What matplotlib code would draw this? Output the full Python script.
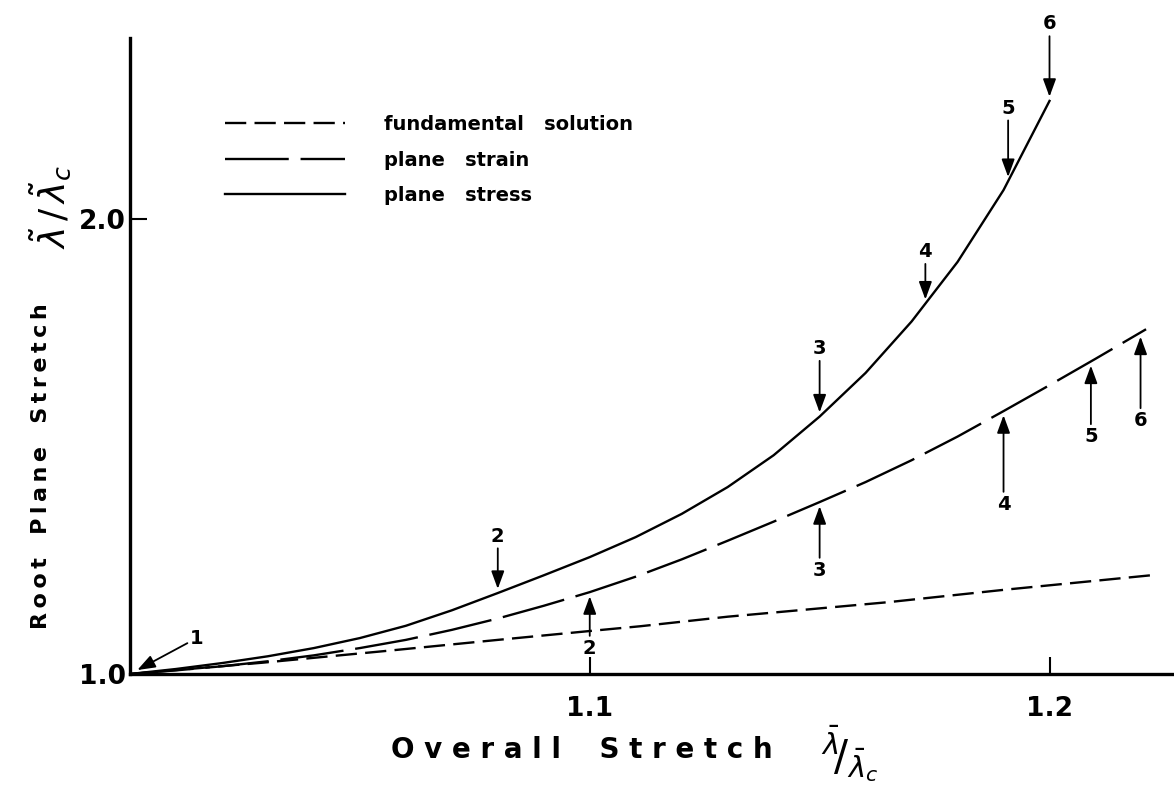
import numpy as np
import matplotlib
matplotlib.use("Agg")
import matplotlib.pyplot as plt
from matplotlib.lines import Line2D

# curves
stress_x = [1.00, 1.01, 1.02, 1.03, 1.04, 1.05, 1.06, 1.07, 1.08, 1.09, 1.10,
            1.11, 1.12, 1.13, 1.14, 1.15, 1.16, 1.17, 1.18, 1.19, 1.20]
stress_y = [1.000, 1.011, 1.024, 1.039, 1.057, 1.079, 1.106, 1.140, 1.178, 1.217, 1.257,
            1.301, 1.352, 1.411, 1.481, 1.566, 1.662, 1.775, 1.906, 2.064, 2.260]

strain_x = [1.00, 1.01, 1.02, 1.03, 1.04, 1.05, 1.06, 1.07, 1.08, 1.09, 1.10, 1.11,
            1.12, 1.13, 1.14, 1.15, 1.16, 1.17, 1.18, 1.19, 1.20, 1.21, 1.221]
strain_y = [1.000, 1.008, 1.017, 1.028, 1.041, 1.057, 1.075, 1.097, 1.122, 1.150, 1.180, 1.214,
            1.252, 1.293, 1.335, 1.378, 1.422, 1.470, 1.522, 1.578, 1.635, 1.693, 1.758]

fund_x = [1.000, 1.029, 1.056, 1.080, 1.100, 1.111, 1.130, 1.165, 1.190, 1.223]
fund_y = [1.000, 1.025, 1.051, 1.075, 1.0945, 1.105, 1.126, 1.158, 1.185, 1.218]

# numbered stations along the curves
stress_marks = ["2", "3", "4", "5", "6"]
stress_mark_x = [1.080, 1.150, 1.173, 1.191, 1.200]
strain_marks = ["2", "3", "4", "5", "6"]
strain_mark_x = [1.100, 1.150, 1.190, 1.209, 1.2198]

legend_labels = ["fundamental   solution", "plane   strain", "plane   stress"]

LW = 1.7
fund_dash = (0, (9, 3.5))
strain_dash = (0, (27, 5))

fig = plt.figure(figsize=(11.74, 8.1), dpi=100)
ax = fig.add_axes([0.1107, 0.1679, 0.889, 0.785])

ax.plot(fund_x, fund_y, color="k", lw=LW, linestyle=fund_dash)
ax.plot(strain_x, strain_y, color="k", lw=LW, linestyle=strain_dash)
ax.plot(stress_x, stress_y, color="k", lw=LW)

ax.set_xlim(1.0, 1.227)
ax.set_ylim(1.0, 2.398)

for s in ["top", "right"]:
    ax.spines[s].set_visible(False)
for s in ["left", "bottom"]:
    ax.spines[s].set_linewidth(2.4)

ax.set_xticks([1.1, 1.2])
ax.set_xticklabels(["1.1", "1.2"])
ax.set_yticks([1.0, 2.0])
ax.set_yticklabels(["1.0", "2.0"])
ax.tick_params(axis="x", direction="in", length=12, width=1.5, pad=16,
               labelsize=19)
ax.tick_params(axis="y", direction="in", length=12, width=1.5, pad=3,
               labelsize=19)
for lab in ax.get_xticklabels() + ax.get_yticklabels():
    lab.set_fontweight("bold")

ax.text(-0.085, 0.327, "R\u2009o\u2009o\u2009t   P\u2009l\u2009a\u2009n\u2009e   S\u2009t\u2009r\u2009e\u2009t\u2009c\u2009h",
        transform=ax.transAxes, rotation=90, ha="center", va="center",
        fontsize=16, fontweight="bold")
ax.text(-0.077, 0.735, r"$\tilde{\lambda}\,/\,\tilde{\lambda}_c$",
        transform=ax.transAxes, rotation=90, ha="center", va="center",
        fontsize=26)
ax.text(0.433, -0.12, "O v e r a l l    S t r e t c h",
        transform=ax.transAxes, ha="center", va="center",
        fontsize=20, fontweight="bold")
ax.text(0.69, -0.125, r"$^{\bar{\lambda}}\!/_{\bar{\lambda}_c}$",
        transform=ax.transAxes, ha="center", va="center", fontsize=30)

arrow = dict(arrowstyle="-|>,head_length=0.6,head_width=0.22", color="k",
             lw=1.3, mutation_scale=18, shrinkA=0, shrinkB=3)

stress_off = [57, 68, 52, 73, 77]
for lab, x, off in zip(stress_marks, stress_mark_x, stress_off):
    y = np.interp(x, stress_x, stress_y)
    ax.annotate(lab, xy=(x, y), xytext=(0, off), textcoords="offset pixels",
                ha="center", va="center", fontsize=14, fontweight="bold",
                arrowprops=arrow)

strain_off = [-56, -68, -93, -75, -88]
for lab, x, off in zip(strain_marks, strain_mark_x, strain_off):
    y = np.interp(x, strain_x, strain_y)
    ax.annotate(lab, xy=(x, y), xytext=(0, off), textcoords="offset pixels",
                ha="center", va="center", fontsize=14, fontweight="bold",
                arrowprops=arrow)

ax.annotate("1", xy=(stress_x[0], stress_y[0]), xytext=(67, 36),
            textcoords="offset pixels", ha="center", va="center",
            fontsize=14, fontweight="bold",
            arrowprops=dict(arrow, shrinkB=6))

handles = [Line2D([], [], color="k", lw=LW, linestyle=fund_dash),
           Line2D([], [], color="k", lw=LW, linestyle=strain_dash),
           Line2D([], [], color="k", lw=LW)]
leg = ax.legend(handles, legend_labels, loc="center left",
                bbox_to_anchor=(0.091, 0.808), frameon=False,
                borderpad=0, borderaxespad=0, handlelength=6.2,
                handletextpad=2.0, labelspacing=0.85,
                prop=dict(size=14, weight="bold"))

fig.savefig("out.png", dpi=100)
